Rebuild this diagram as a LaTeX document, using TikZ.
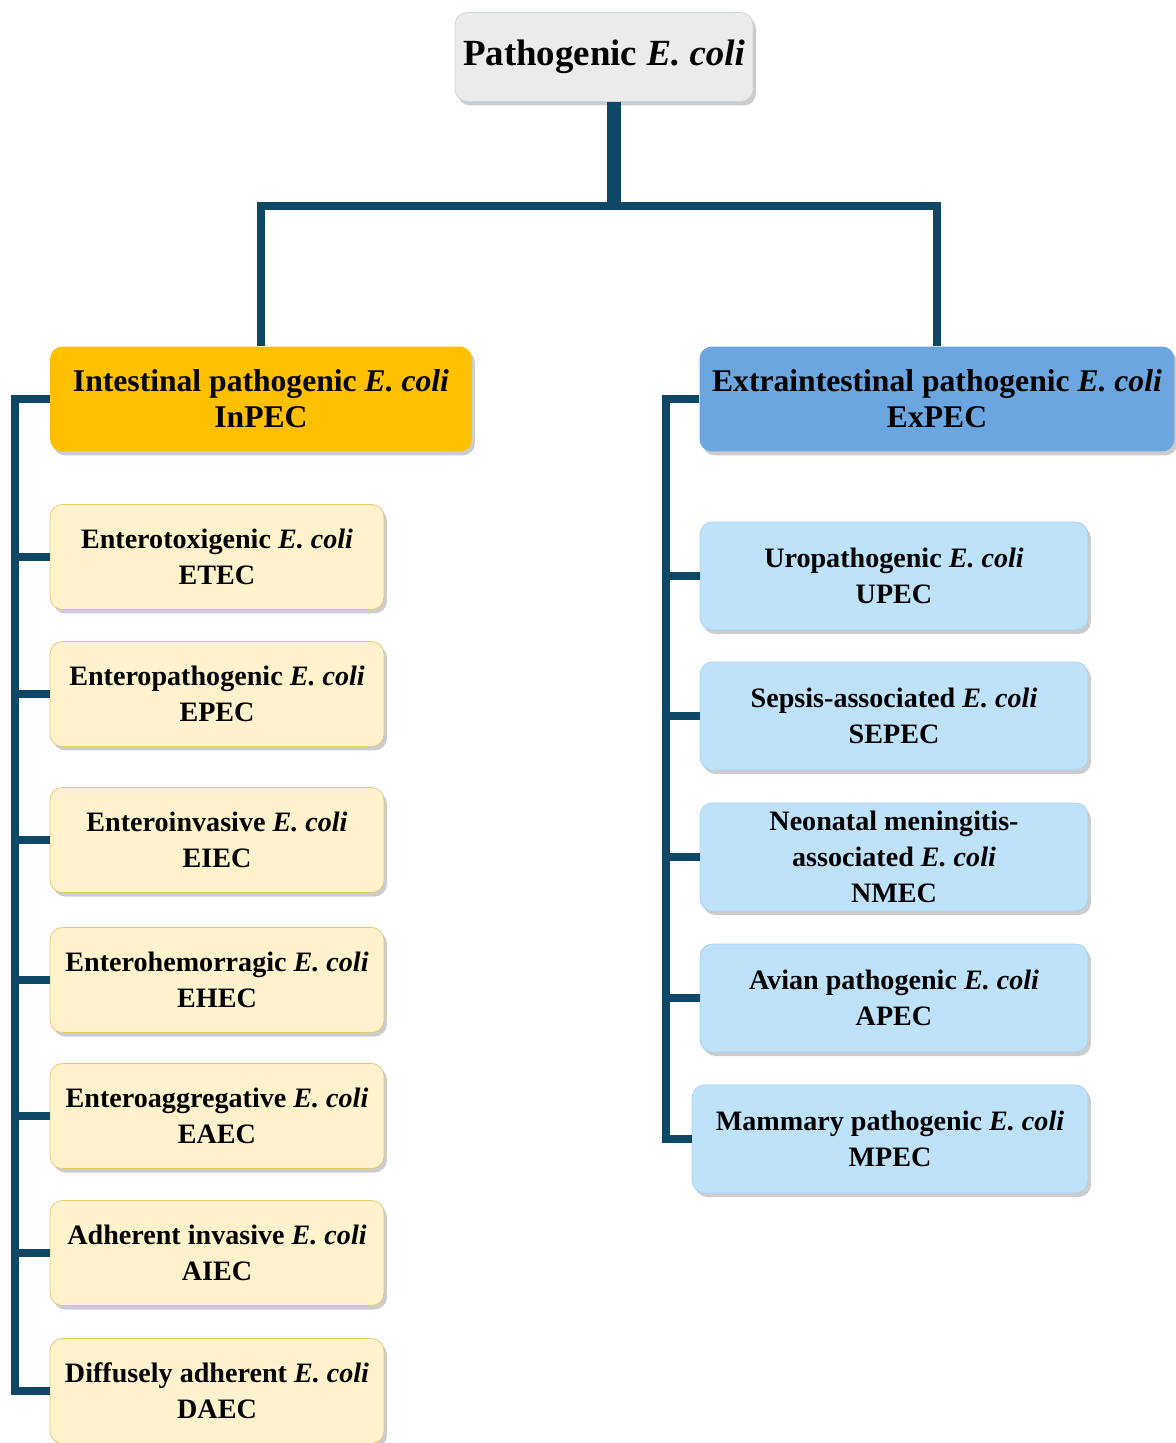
\documentclass[tikz,border=0pt]{standalone}
\usepackage{fontspec}
\setmainfont{Liberation Serif}
\usetikzlibrary{shadows}
\definecolor{linkblue}{RGB}{14,72,102}
\definecolor{rootgray}{RGB}{235,235,235}
\definecolor{rootedge}{RGB}{200,212,224}
\definecolor{inorange}{RGB}{255,192,0}
\definecolor{exblue}{RGB}{108,166,224}
\definecolor{incream}{RGB}{255,242,204}
\definecolor{increamedge}{RGB}{232,198,112}
\definecolor{exlight}{RGB}{190,226,250}
\definecolor{exlightedge}{RGB}{168,208,240}

\begin{document}
\begin{tikzpicture}[x=0.02cm, y=-0.02cm,
    box/.style={rounded corners=7pt, align=center, inner sep=0pt, font=\bfseries,
        drop shadow={shadow xshift=0.06cm, shadow yshift=-0.08cm, fill=black!40}},
    rootbox/.style={box, draw=rootedge, fill=rootgray, minimum width=5.96cm, minimum height=1.78cm,
        font=\bfseries\fontsize{21}{25}\selectfont},
    groupbox/.style={box, draw=none, minimum height=2.1cm,
        font=\bfseries\fontsize{18}{20.5}\selectfont},
    inbox/.style={box, draw=increamedge, fill=incream, minimum width=6.68cm, minimum height=2.1cm,
        font=\bfseries\fontsize{16}{20.5}\selectfont},
    exbox/.style={box, draw=exlightedge, fill=exlight, minimum width=7.76cm, minimum height=2.16cm,
        font=\bfseries\fontsize{16}{20.5}\selectfont},
    link/.style={draw=linkblue, line width=0.16cm},
    trunk/.style={draw=linkblue, line width=0.28cm}]

    \useasboundingbox (0,0) rectangle (1176,1443);

    % Root
    \node[rootbox] (root) at (604,57) {Pathogenic \textit{E. coli}};

    % Groups
    \node[groupbox, fill=inorange, minimum width=8.44cm] (inpec) at (261,399)
        {Intestinal pathogenic \textit{E. coli}\\InPEC};
    \node[groupbox, fill=exblue, minimum width=9.5cm] (expec) at (937,399)
        {Extraintestinal pathogenic \textit{E. coli}\\ExPEC};

    % Intestinal types
    \node[inbox] (etec) at (217,557)  {Enterotoxigenic \textit{E. coli}\\ETEC};
    \node[inbox] (epec) at (217,694)  {Enteropathogenic \textit{E. coli}\\EPEC};
    \node[inbox] (eiec) at (217,840)  {Enteroinvasive \textit{E. coli}\\EIEC};
    \node[inbox] (ehec) at (217,980)  {Enterohemorragic \textit{E. coli}\\EHEC};
    \node[inbox] (eaec) at (217,1116) {Enteroaggregative \textit{E. coli}\\EAEC};
    \node[inbox] (aiec) at (217,1253) {Adherent invasive \textit{E. coli}\\AIEC};
    \node[inbox] (daec) at (217,1391) {Diffusely adherent \textit{E. coli}\\DAEC};

    % Extraintestinal types
    \node[exbox] (upec) at (894,576)   {Uropathogenic \textit{E. coli}\\UPEC};
    \node[exbox] (sepec) at (894,716)  {Sepsis-associated \textit{E. coli}\\SEPEC};
    \node[exbox] (nmec) at (894,857)   {Neonatal meningitis-\\associated \textit{E. coli}\\NMEC};
    \node[exbox] (apec) at (894,998)   {Avian pathogenic \textit{E. coli}\\APEC};
    \node[exbox, minimum width=7.92cm] (mpec) at (890,1139) {Mammary pathogenic \textit{E. coli}\\MPEC};

    % Tree links
    \coordinate (split) at (614,206);
    \coordinate (lspine) at (15,399);
    \coordinate (rspine) at (666,399);
    \draw[trunk] (split |- root.south) -- (split);
    \draw[link] (inpec.north) |- (split) -| (expec.north);
    \draw[link] (inpec.west) -- (lspine) |- (daec.west);
    \draw[link] (expec.west) -- (rspine) |- (mpec.west);
    \foreach \n in {etec, epec, eiec, ehec, eaec, aiec}
        \draw[link] (\n.west) -- (\n.west -| lspine);
    \foreach \n in {upec, sepec, nmec, apec}
        \draw[link] (\n.west) -- (\n.west -| rspine);
\end{tikzpicture}
\end{document}
